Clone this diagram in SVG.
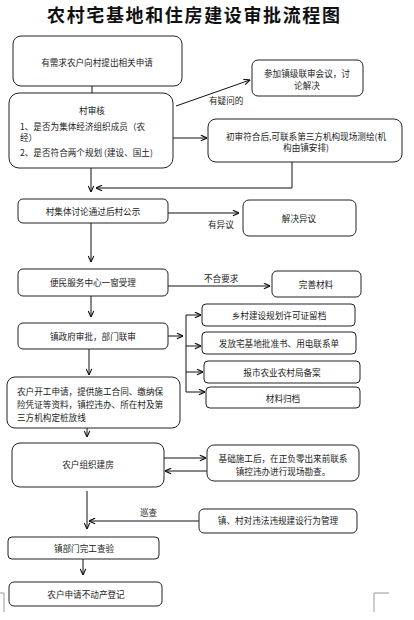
<svg xmlns="http://www.w3.org/2000/svg" width="414" height="620" viewBox="0 0 414 620">
<style>
.box{fill:#fff;stroke:#222;stroke-width:1}
.t{font-family:"Noto Sans CJK SC","Noto Sans",sans-serif;font-size:8.6px;fill:#222;text-anchor:middle;dominant-baseline:central}
.l{text-anchor:start}
.c{fill:none;stroke:#111;stroke-width:1}
.title{font-family:"Noto Sans CJK SC",sans-serif;font-size:18px;font-weight:bold;fill:#111}
</style>
<defs>
<marker id="a" viewBox="0 0 8 8" refX="7.5" refY="4" markerWidth="7" markerHeight="7" orient="auto" markerUnits="userSpaceOnUse">
<path d="M0.5,0.8 L7.5,4 L0.5,7.2" fill="none" stroke="#111" stroke-width="1.3"/>
</marker>
</defs>
<rect width="414" height="620" fill="#fff"/>
<text class="title" x="47" y="22" textLength="293" lengthAdjust="spacing">农村宅基地和住房建设审批流程图</text>

<g id="connectors">
<path class="c" d="M92,86 V93"/>
<path class="c" d="M176,106 L250,80" marker-end="url(#a)"/>
<path class="c" d="M173,138 H207" marker-end="url(#a)"/>
<path class="c" d="M91,168 V192" marker-end="url(#a)"/>
<path class="c" d="M292,162 V188 H96" marker-end="url(#a)"/>
<path class="c" d="M168,213 H239" marker-end="url(#a)"/>
<path class="c" d="M91,223 V262" marker-end="url(#a)"/>
<path class="c" d="M168,286 H270" marker-end="url(#a)"/>
<path class="c" d="M91,296 V317" marker-end="url(#a)"/>
<path class="c" d="M168,336 H183" marker-end="url(#a)"/>
<path class="c" d="M186,315 V392"/>
<path class="c" d="M186,315 H201" marker-end="url(#a)"/>
<path class="c" d="M186,346 H201" marker-end="url(#a)"/>
<path class="c" d="M186,372 H203" marker-end="url(#a)"/>
<path class="c" d="M186,392 H205" marker-end="url(#a)"/>
<path class="c" d="M89,349 V375" marker-end="url(#a)"/>
<path class="c" d="M87,428 V437" marker-end="url(#a)"/>
<path class="c" d="M164,458 H206" marker-end="url(#a)"/>
<path class="c" d="M207,471 H165" marker-end="url(#a)"/>
<path class="c" d="M87,491 V529" marker-end="url(#a)"/>
<path class="c" d="M199,521 H89" marker-end="url(#a)"/>
<path class="c" d="M83,559 V575" marker-end="url(#a)"/>
<text class="t l" x="209" y="100">有疑问的</text>
<text class="t l" x="208" y="224">有异议</text>
<text class="t l" x="204" y="278">不合要求</text>
<text class="t l" x="140" y="512">巡查</text>
</g>

<g id="n1"><rect class="box" x="13" y="36" width="169" height="50" rx="8"/><text class="t" x="97" y="62">有需求农户向村提出相关申请</text></g>
<g id="n2"><rect class="box" x="9" y="93" width="164" height="75" rx="10"/>
<text class="t" x="92" y="110">村审核</text>
<text class="t l" x="20" y="126">1、是否为集体经济组织成员（农</text>
<text class="t l" x="20" y="137">经）</text>
<text class="t l" x="20" y="152">2、是否符合两个规划 (建设、国土)</text></g>
<g id="n3"><rect class="box" x="252" y="60" width="111" height="36" rx="6"/>
<text class="t" x="307" y="73">参加镇级联审会议，讨</text><text class="t" x="307" y="85">论解决</text></g>
<g id="n4"><rect class="box" x="208" y="119" width="194" height="43" rx="8"/>
<text class="t" x="306" y="136">初审符合后,可联系第三方机构现场测绘(机</text><text class="t" x="306" y="147">构由镇安排)</text></g>
<g id="n5"><rect class="box" x="18" y="199" width="150" height="24" rx="5"/><text class="t" x="93" y="211">村集体讨论通过后村公示</text></g>
<g id="n6"><rect class="box" x="243" y="200" width="113" height="36" rx="6"/><text class="t" x="299" y="218">解决异议</text></g>
<g id="n7"><rect class="box" x="18" y="269" width="150" height="27" rx="5"/><text class="t" x="93" y="282">便民服务中心一窗受理</text></g>
<g id="n8"><rect class="box" x="272" y="271" width="89" height="26" rx="5"/><text class="t" x="316" y="284">完善材料</text></g>
<g id="n9"><rect class="box" x="18" y="323" width="150" height="26" rx="5"/><text class="t" x="93" y="336">镇政府审批，部门联审</text></g>
<g id="n10"><rect class="box" x="202" y="304" width="153" height="22" rx="4"/><text class="t" x="279" y="315">乡村建设规划许可证留档</text></g>
<g id="n11"><rect class="box" x="202" y="332" width="154" height="22" rx="4"/><text class="t" x="279" y="343">发放宅基地批准书、用电联系单</text></g>
<g id="n12"><rect class="box" x="204" y="361" width="156" height="22" rx="4"/><text class="t" x="282" y="372">报市农业农村局备案</text></g>
<g id="n13"><rect class="box" x="206" y="387" width="154" height="21" rx="4"/><text class="t" x="283" y="398">材料归档</text></g>
<g id="n14"><rect class="box" x="7" y="377" width="173" height="51" rx="8"/>
<text class="t l" x="17" y="391">农户开工申请，提供施工合同、缴纳保</text>
<text class="t l" x="17" y="404">险凭证等资料，镇控违办、所在村及第</text>
<text class="t l" x="17" y="417">三方机构定桩放线</text></g>
<g id="n15"><rect class="box" x="12" y="443" width="152" height="44" rx="8"/><text class="t" x="88" y="464">农户组织建房</text></g>
<g id="n16"><rect class="box" x="207" y="445" width="152" height="36" rx="7"/>
<text class="t" x="283" y="458">基础施工后，在正负零出来前联系</text><text class="t" x="283" y="471">镇控违办进行现场勘查。</text></g>
<g id="n17"><rect class="box" x="199" y="509" width="158" height="24" rx="5"/><text class="t" x="278" y="520">镇、村对违法违规建设行为管理</text></g>
<g id="n18"><rect class="box" x="8" y="537" width="151" height="22" rx="4"/><text class="t" x="84" y="548">镇部门完工查验</text></g>
<g id="n19"><rect class="box" x="9" y="582" width="153" height="24" rx="5"/><text class="t" x="86" y="594">农户申请不动产登记</text></g>
<path d="M0,593 H4 V612 M389,593 H374 V612" fill="none" stroke="#999" stroke-width="1"/>
</svg>
